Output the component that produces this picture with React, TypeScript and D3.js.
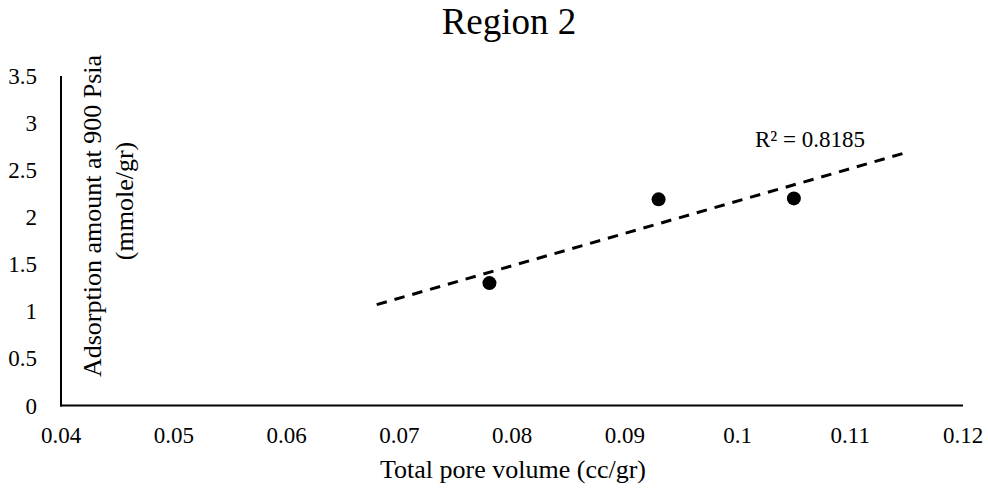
import React from 'react';
import * as d3 from 'd3';

// measured samples
const poreVolume = [0.078, 0.093, 0.105];
const adsorption = [1.3, 2.19, 2.2];
const xTicks = [0.04, 0.05, 0.06, 0.07, 0.08, 0.09, 0.1, 0.11, 0.12];
const yTicks = [0, 0.5, 1, 1.5, 2, 2.5, 3, 3.5];
const trendExtent = [0.068, 0.115];
const rSquaredLabel = 'R² = 0.8185';

const W = 988;
const H = 488;
const FONT = "'Liberation Serif', 'Times New Roman', serif";

const linearFit = (xs: number[], ys: number[]) => {
    const mx = d3.mean(xs) as number;
    const my = d3.mean(ys) as number;
    let sxy = 0;
    let sxx = 0;
    xs.forEach((x, i) => {
        sxy += (x - mx) * (ys[i] - my);
        sxx += (x - mx) * (x - mx);
    });
    const slope = sxy / sxx;
    return { slope, intercept: my - slope * mx };
};

const App = () => {
    const x = d3.scaleLinear([0.04, 0.12], [61, 963]);
    const y = d3.scaleLinear([0, 3.5], [405.5, 76]);

    const { slope, intercept } = linearFit(poreVolume, adsorption);
    const trend: [number, number][] = trendExtent.map(v => [v, intercept + slope * v]);
    const trendPath = d3
        .line<[number, number]>()
        .x(d => x(d[0]))
        .y(d => y(d[1]))(trend);

    const points = poreVolume.map((v, i) => ({ key: i, v, a: adsorption[i] }));

    return (
        <svg
            width={W}
            height={H}
            style={{ position: 'absolute', left: 0, top: 0, background: '#fff' }}
            fontFamily={FONT}
        >
            <rect width={W} height={H} fill='#fff' />
            <text x={509} y={34} fontSize={37} textAnchor='middle' fill='#000'>
                Region 2
            </text>

            {/* axes */}
            <line x1={x(0.04)} x2={x(0.04)} y1={y(3.5)} y2={y(0) + 1} stroke='#000' strokeWidth={2} />
            <line x1={x(0.04) - 1} x2={x(0.12)} y1={y(0)} y2={y(0)} stroke='#000' strokeWidth={2} />

            {xTicks.map(t => (
                <text key={t} x={x(t)} y={443} fontSize={23} textAnchor='middle' fill='#000'>
                    {String(t)}
                </text>
            ))}
            {yTicks.map(t => (
                <text key={t} x={37} y={y(t)} dy='0.35em' fontSize={23} textAnchor='end' fill='#000'>
                    {String(t)}
                </text>
            ))}

            <text x={513} y={478} fontSize={26} textAnchor='middle' fill='#000'>
                Total pore volume (cc/gr)
            </text>
            <text transform='translate(101,216) rotate(-90)' fontSize={26} textAnchor='middle' fill='#000'>
                Adsorption amount at 900 Psia
            </text>
            <text transform='translate(133,201) rotate(-90)' fontSize={26} textAnchor='middle' fill='#000'>
                (mmole/gr)
            </text>

            {/* trendline */}
            <path
                d={trendPath ?? ''}
                fill='none'
                stroke='#000'
                strokeWidth={3}
                strokeDasharray='10.5 8'
            />
            <text x={755} y={147} fontSize={23} fill='#000'>
                {rSquaredLabel}
            </text>

            {points.map(d => (
                <circle key={d.key} cx={x(d.v)} cy={y(d.a)} r={7} fill='#000' />
            ))}
        </svg>
    );
};

export default App;
